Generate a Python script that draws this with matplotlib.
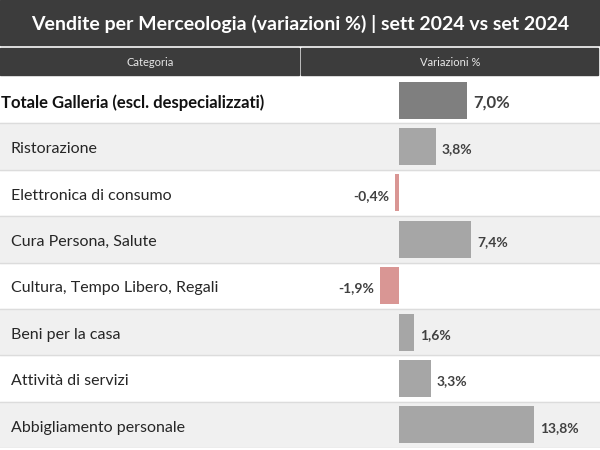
import matplotlib.pyplot as plt
from matplotlib.patches import Rectangle

plt.rcParams['font.family'] = ['Lato', 'DejaVu Sans']

title = "Vendite per Merceologia (variazioni %) | sett 2024 vs set 2024"
header_left = "Categoria"
header_right = "Variazioni %"
categorie = ["Totale Galleria (escl. despecializzati)", "Ristorazione",
             "Elettronica di consumo", "Cura Persona, Salute",
             "Cultura, Tempo Libero, Regali", "Beni per la casa",
             "Attività di servizi", "Abbigliamento personale"]
variazioni = [7.0, 3.8, -0.4, 7.4, -1.9, 1.6, 3.3, 13.8]

W, H = 600, 450
fig = plt.figure(figsize=(6, 4.5), dpi=100)
bg = fig.add_axes([0, 0, 1, 1])
bg.set_xlim(0, W)
bg.set_ylim(H, 0)
bg.axis('off')

dark = '#3c3c3c'
# title band
bg.add_patch(Rectangle((0, 0), W, 45, color=dark))
bg.text(W / 2, 24, title, color='white', fontsize=14, fontweight='bold',
        ha='center', va='center')
# header band
bg.add_patch(Rectangle((0, 48), 299, 27, color=dark))
bg.add_patch(Rectangle((301, 48), 297, 27, color=dark))
bg.text(150, 62, header_left, color='#e8e8e8', fontsize=8, ha='center', va='center')
bg.text(450, 62, header_right, color='#e8e8e8', fontsize=8, ha='center', va='center')

# rows area
top, bottom = 77, 448
zero_px, px_per = 398.7, 9.8
ax = fig.add_axes([0, 1 - bottom / H, 1, (bottom - top) / H])
ax.set_xlim(-zero_px / px_per, (W - zero_px) / px_per)
n = len(categorie)
ax.set_ylim(n - 0.5, -0.5)
ax.axis('off')

for i in range(n):
    if i % 2 == 1:
        ax.axhspan(i - 0.5, i + 0.5, color='#f0f0f0', zorder=0)
    ax.axhline(i + 0.5, color='#dcdcdc', lw=1, zorder=1)

colors = []
for i, v in enumerate(variazioni):
    if i == 0:
        colors.append('#7f7f7f')
    elif v < 0:
        colors.append('#d99694')
    else:
        colors.append('#a6a6a6')
ax.barh(range(n), variazioni, height=0.8, color=colors, zorder=2)

xl = ax.get_xlim()[0]
dy = 0.06
for i, (c, v) in enumerate(zip(categorie, variazioni)):
    if i == 0:
        ax.text(xl + 0.1, i + dy, c, fontsize=12, fontweight='bold', color='#111111',
                ha='left', va='center')
    else:
        ax.text(xl + 1.1, i + dy, c, fontsize=11.5, color='#262626',
                ha='left', va='center')
    lab = f"{v:.1f}".replace('.', ',') + '%'
    fs = 12 if i == 0 else 10
    if v >= 0:
        ax.text(v + 0.6, i + dy, lab, fontsize=fs, fontweight='bold', color='#404040',
                ha='left', va='center')
    else:
        ax.text(v - 0.6, i + dy, lab, fontsize=fs, fontweight='bold', color='#404040',
                ha='right', va='center')

fig.savefig('out.png', dpi=100)
